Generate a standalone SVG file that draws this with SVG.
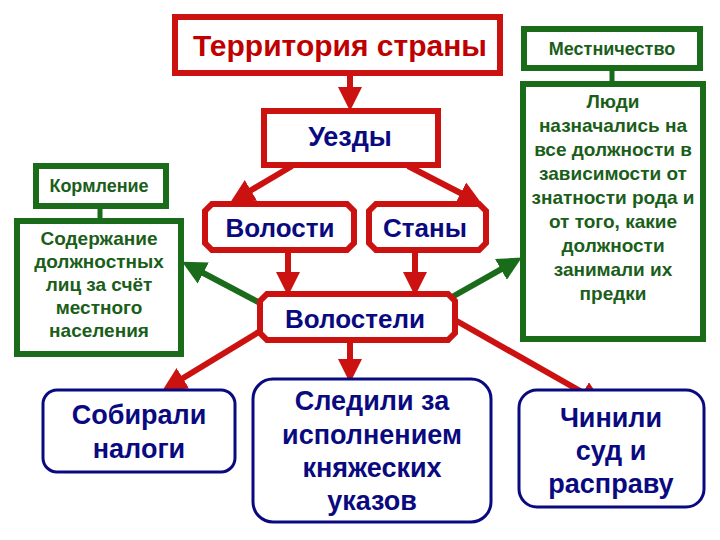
<svg xmlns="http://www.w3.org/2000/svg" width="720" height="540" viewBox="0 0 720 540">
<style>
text{font-family:"Liberation Sans",Arial,sans-serif;font-weight:bold;text-anchor:middle}
.r{fill:#fff;stroke:#cc1111;stroke-width:6}
.g{fill:#fff;stroke:#1a6b1a;stroke-width:6}
.b{fill:#fff;stroke:#0a0a80;stroke-width:3}
.tr{fill:#c00000}.tb{fill:#0a0a80}.tg{fill:#1a5e1a}
.ar{stroke:#cc1111;stroke-width:6;fill:none}
.ag{stroke:#1a6b1a;stroke-width:6;fill:none}
</style>
<defs>
<marker id="mr" markerWidth="4" markerHeight="4" refX="2.5" refY="2" orient="auto" markerUnits="strokeWidth"><path d="M0,0L4,2L0,4z" fill="#cc1111"/></marker>
<marker id="mg" markerWidth="4" markerHeight="4" refX="2.5" refY="2" orient="auto" markerUnits="strokeWidth"><path d="M0,0L4,2L0,4z" fill="#1a6b1a"/></marker>
</defs>
<rect width="720" height="540" fill="#fff"/>
<g id="connectors">
<line class="ar" x1="350" y1="76" x2="350" y2="102" marker-end="url(#mr)"/>
<line class="ar" x1="292" y1="166" x2="238" y2="198" marker-end="url(#mr)"/>
<line class="ar" x1="408" y1="166" x2="474" y2="200" marker-end="url(#mr)"/>
<line class="ar" x1="288" y1="253" x2="288" y2="287" marker-end="url(#mr)"/>
<line class="ar" x1="415" y1="253" x2="415" y2="287" marker-end="url(#mr)"/>
<line class="ar" x1="350" y1="342" x2="350" y2="374" marker-end="url(#mr)"/>
<line class="ar" x1="262" y1="330" x2="170" y2="386" marker-end="url(#mr)"/>
<line class="ar" x1="455" y1="320" x2="596" y2="400" marker-end="url(#mr)"/>
<line class="ag" x1="262" y1="304" x2="190" y2="266" marker-end="url(#mg)"/>
<line class="ag" x1="452" y1="297" x2="514" y2="262" marker-end="url(#mg)"/>
<line stroke="#1a6b1a" stroke-width="5" x1="100" y1="207" x2="100" y2="220"/>
<line stroke="#1a6b1a" stroke-width="5" x1="612" y1="68" x2="612" y2="83"/>
</g>
<g id="territory"><rect class="r" x="175" y="17" width="325" height="56"/><text class="tr" x="340" y="56" font-size="30">Территория страны</text></g>
<g id="mestnichestvo"><rect class="g" x="524" y="29" width="176" height="39"/><text class="tg" x="612" y="55" font-size="18">Местничество</text></g>
<g id="lyudi"><rect class="g" x="523" y="84" width="180" height="255"/>
<text class="tg" font-size="19"><tspan x="613" y="108">Люди</tspan><tspan x="613" y="132">назначались на</tspan><tspan x="613" y="156">все должности в</tspan><tspan x="613" y="180">зависимости от</tspan><tspan x="613" y="204">знатности рода и</tspan><tspan x="613" y="228">от того, какие</tspan><tspan x="613" y="252">должности</tspan><tspan x="613" y="276">занимали их</tspan><tspan x="613" y="300">предки</tspan></text></g>
<g id="uezdy"><rect class="r" x="264" y="111" width="174" height="54"/><text class="tb" x="350" y="146" font-size="27">Уезды</text></g>
<g id="kormlenie"><rect class="g" x="36" y="166" width="130" height="40"/><text class="tg" x="99" y="192" font-size="18">Кормление</text></g>
<g id="soderzhanie"><rect class="g" x="17" y="221" width="164" height="133"/>
<text class="tg" font-size="19"><tspan x="99" y="245">Содержание</tspan><tspan x="99" y="268">должностных</tspan><tspan x="99" y="291">лиц за счёт</tspan><tspan x="99" y="314">местного</tspan><tspan x="99" y="337">населения</tspan></text></g>
<g id="volosti"><path class="r" d="M212,204H347L354,211V243L347,250H212L205,243V211Z"/><text class="tb" x="280" y="237" font-size="26">Волости</text></g>
<g id="stany"><path class="r" d="M376,204H479L486,211V243L479,250H376L369,243V211Z"/><text class="tb" x="425" y="237" font-size="26">Станы</text></g>
<g id="volosteli"><path class="r" d="M267,294H448L455,301V333L448,340H267L260,333V301Z"/><text class="tb" x="355" y="328" font-size="26">Волостели</text></g>
<g id="sobirali"><rect class="b" x="43" y="390" width="192" height="82" rx="14"/><text class="tb" font-size="27"><tspan x="139" y="424">Собирали</tspan><tspan x="139" y="458">налоги</tspan></text></g>
<g id="sledili"><rect class="b" x="253" y="379" width="238" height="143" rx="20"/><text class="tb" font-size="27"><tspan x="372" y="410">Следили за</tspan><tspan x="372" y="444">исполнением</tspan><tspan x="372" y="477">княжеских</tspan><tspan x="372" y="510">указов</tspan></text></g>
<g id="chinili"><rect class="b" x="519" y="390" width="185" height="117" rx="18"/><text class="tb" font-size="27"><tspan x="611" y="427">Чинили</tspan><tspan x="611" y="460">суд и</tspan><tspan x="611" y="493">расправу</tspan></text></g>
</svg>
